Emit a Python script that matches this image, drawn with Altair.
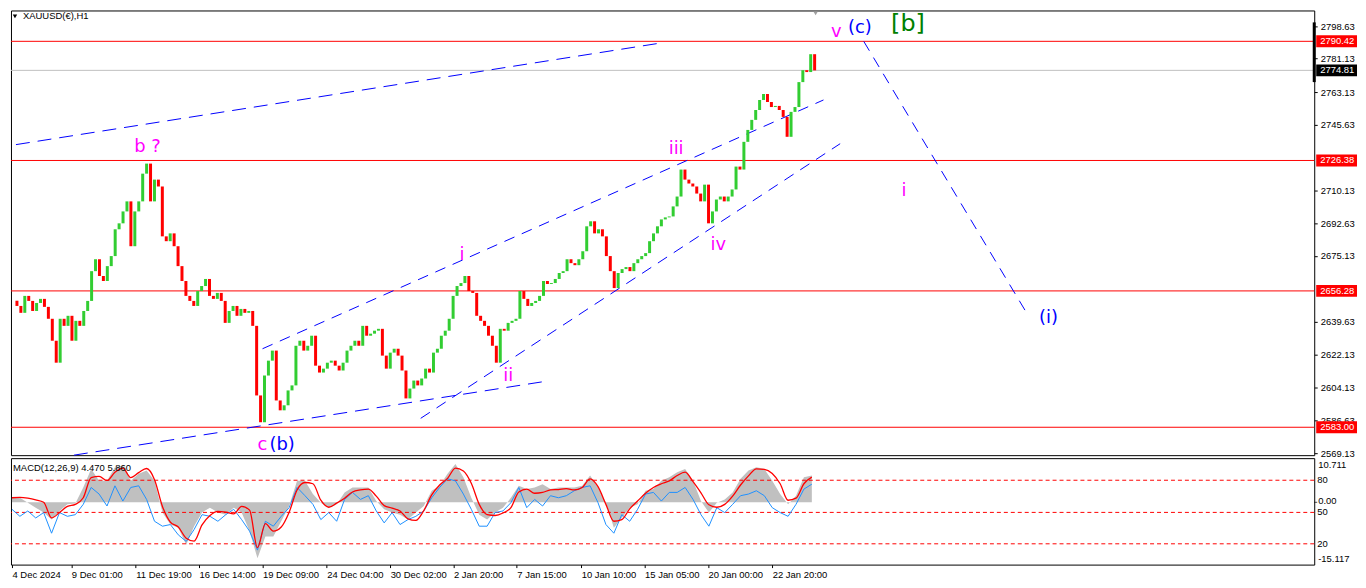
import json
import altair as alt
import pandas as pd

# ---------------- data ----------------
# hourly bar numbers (sampled every 4 bars) and closing prices
candle_bar = list(range(0, 816, 4))
close = [
    2648.2, 2644.5, 2653.6, 2650.9, 2645.5, 2649.8, 2652.0, 2647.7, 2641.3, 2629.5,
    2617.7, 2641.3, 2637.5, 2642.9, 2629.5, 2640.2, 2637.5, 2645.5, 2650.9, 2666.9,
    2673.3, 2664.3, 2661.6, 2669.6, 2675.0, 2689.4, 2692.6, 2699.0, 2704.4, 2680.3,
    2699.0, 2704.4, 2719.3, 2724.7, 2704.4, 2716.1, 2712.4, 2685.6, 2683.0, 2687.2,
    2680.3, 2669.6, 2661.6, 2653.6, 2650.9, 2648.2, 2656.2, 2658.9, 2662.7, 2653.6,
    2652.0, 2655.2, 2650.9, 2639.1, 2645.5, 2648.2, 2642.9, 2646.6, 2644.5, 2645.5,
    2637.5, 2600.1, 2585.7, 2610.8, 2618.8, 2624.2, 2597.4, 2592.1, 2594.8, 2602.8,
    2605.5, 2626.8, 2629.5, 2624.2, 2626.8, 2632.2, 2616.1, 2612.4, 2614.5, 2617.7,
    2618.8, 2616.1, 2613.5, 2617.7, 2624.2, 2626.8, 2629.5, 2626.8, 2637.5, 2632.2,
    2633.3, 2634.9, 2635.9, 2621.5, 2614.5, 2623.1, 2625.2, 2621.5, 2613.5, 2598.5,
    2603.8, 2608.1, 2605.5, 2609.2, 2614.5, 2612.4, 2623.1, 2625.2, 2632.2, 2634.9,
    2641.3, 2653.6, 2658.9, 2660.5, 2664.3, 2656.2, 2655.2, 2642.9, 2640.2, 2637.5,
    2632.2, 2626.8, 2617.7, 2635.9, 2634.9, 2639.1, 2640.2, 2641.3, 2656.2, 2652.0,
    2648.2, 2649.8, 2650.9, 2653.6, 2661.6, 2660.0, 2660.5, 2662.7, 2665.9, 2666.9,
    2673.3, 2671.2, 2670.1, 2673.3, 2677.6, 2691.0, 2693.7, 2687.2, 2689.4, 2685.6,
    2675.0, 2666.9, 2657.8, 2665.9, 2668.0, 2669.1, 2666.9, 2671.2, 2673.3, 2675.0,
    2676.6, 2683.0, 2687.2, 2691.0, 2694.7, 2695.8, 2696.3, 2701.7, 2707.0, 2721.5,
    2716.1, 2714.0, 2712.4, 2708.6, 2704.4, 2713.4, 2692.6, 2699.0, 2705.4, 2707.0,
    2704.4, 2707.0, 2710.8, 2723.1, 2721.5, 2736.4, 2742.8, 2748.2, 2753.5, 2758.9,
    2762.1, 2757.8, 2755.1, 2755.7, 2753.5, 2749.8, 2739.1, 2752.5, 2755.1, 2768.5,
    2774.9, 2773.9, 2783.5, 2774.8,
]
first_open = 2651.0

# MACD window (sampled every 8 bars)
macd_bar = list(range(0, 816, 8))
macd_hist = [
    1.1, 1.1, -0.1, -1.3, -2.5, -4.2, -2.1, -0.5, -0.3, 3.6,
    8.1, 5.2, 5.2, 8.5, 8.9, 5.2, 6.9, 7.7, 5.2, -2.5,
    -5.4, -6.2, -10.3, -5.8, -2.5, -1.3, -2.5, -3.0, -1.3, -2.5,
    -7.0, -13.6, -8.3, -8.3, -4.6, -0.9, 5.2, 5.2, 2.0, -0.1,
    -1.3, -0.5, 2.4, 3.6, 3.6, 3.6, 0.3, -1.7, -2.5, -3.0,
    -4.2, -2.5, -0.9, 2.8, 4.0, 6.9, 9.3, 6.1, 1.1, -3.0,
    -4.2, -2.5, -1.3, 1.1, 4.0, 3.2, 3.6, 4.4, 3.2, 3.6,
    3.6, 3.6, 4.0, 6.5, 3.6, -0.1, -6.2, -3.8, -1.3, -0.5,
    2.8, 3.2, 5.2, 6.1, 7.3, 8.1, 5.2, 0.3, -2.5, -0.1,
    0.7, 2.4, 5.7, 7.7, 8.5, 8.1, 5.2, 2.0, -0.5, 1.6,
    6.1, 6.5,
]
macd_signal = [
    1.1, 1.2, 1.0, 0.6, 0.0, -3.8, -2.5, -1.0, -0.5, 1.1,
    6.0, 6.3, 5.3, 7.3, 8.3, 6.0, 7.2, 8.2, 5.5, -1.0,
    -4.8, -6.0, -8.7, -9.4, -5.5, -3.2, -2.2, -2.4, -2.8, -1.0,
    -1.9, -11.0, -5.2, -7.0, -6.0, -2.4, 3.0, 4.8, 4.5, 0.5,
    -1.2, -0.2, 1.0, 2.5, 3.0, 3.2, 1.5, -0.8, -1.4, -2.1,
    -4.0, -4.4, -2.0, 1.8, 4.2, 5.8, 8.3, 7.6, 4.6, -0.5,
    -3.0, -3.2, -2.6, -1.3, 2.5, 3.2, 2.2, 2.4, 3.0, 3.1,
    3.3, 3.0, 3.6, 5.7, 3.8, -0.5, -4.6, -4.2, -1.6, 0.3,
    2.2, 3.6, 4.5, 5.2, 6.5, 7.3, 5.0, 2.3, -0.6, -1.2,
    -0.5, 1.5, 4.2, 6.4, 8.1, 8.0, 7.0, 4.5, 0.5, 1.0,
    4.5, 6.1,
]
macd_blue = [
    -1.7, -3.4, -2.1, -3.8, -2.5, -7.5, -2.5, -3.4, -3.0, -0.5,
    3.6, 2.0, -0.9, 4.0, 0.3, 3.6, 4.0, 0.7, -4.6, -5.8,
    -5.4, -7.9, -9.5, -6.6, -3.0, -3.4, -4.6, -3.0, -1.7, -4.2,
    -7.0, -11.6, -4.6, -5.8, -3.4, -1.3, 3.6, 1.6, -0.5, -4.2,
    -2.5, -4.6, 0.7, 2.4, 0.7, 1.6, -2.1, -5.0, -2.5, -5.4,
    -4.2, -3.4, -2.1, 1.1, 3.6, 5.7, 5.2, 2.0, -1.7, -5.8,
    -5.8, -2.5, -2.1, -0.1, 3.6, -1.3, 0.7, -0.9, 1.6, 1.1,
    1.6, 2.8, 3.6, 4.0, -0.1, -5.4, -7.5, -3.0, -4.6, -1.7,
    2.0, 2.4, 0.3, 2.4, 2.4, 3.6, 0.7, -3.0, -5.8, -1.3,
    -2.5, -0.5, 1.6, 2.0, 2.8, 1.6, -1.3, -2.5, -3.4, -0.5,
    3.2, 4.4,
]
macd_levels = [5.35, -2.45, -10.07]
macd_level_labels = ["80", "50", "20"]
macd_scale_top = 10.711
macd_scale_zero = 0.0
macd_scale_bottom = -15.117

# horizontal levels and price scale labels
red_levels = [2790.42, 2726.38, 2656.28, 2583.00]
current_price = 2774.81
price_ticks = [2798.63, 2781.13, 2763.13, 2745.63, 2710.13, 2692.63,
               2675.13, 2639.63, 2622.13, 2604.13, 2586.63, 2569.13]

# time axis
date_bars = [0, 60, 125, 189, 253, 318, 382, 446, 510, 575, 639, 703, 768]
date_labels = ["4 Dec 2024", "9 Dec 01:00", "11 Dec 19:00", "16 Dec 14:00",
               "19 Dec 09:00", "24 Dec 04:00", "30 Dec 02:00", "2 Jan 20:00",
               "7 Jan 15:00", "10 Jan 10:00", "15 Jan 05:00", "20 Jan 00:00",
               "22 Jan 20:00"]

# trend lines (id, bar, price)
long_dash_id = ["t1", "t1", "t2", "t2"]
long_dash_bar = [-1, 654, 58, 537]
long_dash_price = [2734.9, 2789.4, 2568.0, 2607.6]
short_dash_id = ["c1", "c1", "c2", "c2", "d1", "d1"]
short_dash_bar = [250, 821, 411, 838, 862, 1029]
short_dash_price = [2625.2, 2758.9, 2587.8, 2735.4, 2790.4, 2643.4]

# wave labels
wave_text = ["b ?", "c", "(b)", "i", "ii", "iii", "iv", "v", "(c)", "[b]", "i", "(i)"]
wave_bar = [133, 250, 270, 453, 500, 671, 714, 834, 858, 907, 903, 1050]
wave_price = [2733.8, 2573.4, 2573.4, 2675.5, 2610.3, 2732.7, 2680.8,
              2795.2, 2797.4, 2799.5, 2709.7, 2641.8]
wave_color = ["#ff00ff", "#ff00ff", "#0000ff", "#ff00ff", "#ff00ff", "#ff00ff",
              "#ff00ff", "#ff00ff", "#0000ff", "#008000", "#ff00ff", "#0000ff"]
wave_size = [18, 18, 18, 18, 18, 18, 18, 18, 18, 24, 18, 18]

# ---------------- chart ----------------
W = 1310
H_MAIN = 447
H_MACD = 107
FONT = "Liberation Sans"
FS = 9.5
GREEN = "#32cd32"
RED = "#ff0000"

x_scale = alt.Scale(domain=[-1, 1315.5], nice=False, zero=False)
y_main_scale = alt.Scale(domain=[2568.0, 2807.0], nice=False, zero=False)
y_macd_scale = alt.Scale(domain=[-15.117, 10.711], nice=False, zero=False)

price_axis = alt.Axis(orient="right", values=price_ticks, format=".2f", tickSize=3,
                      tickColor="black", labelPadding=3, labelFont=FONT,
                      labelFontSize=FS, labelColor="black", domain=False, grid=False,
                      title=None, labelOverlap=False)


def xm(field="bar"):
    return alt.X(f"{field}:Q", scale=x_scale, axis=None)


def ym(field):
    return alt.Y(f"{field}:Q", scale=y_main_scale, axis=price_axis)


opens = [first_open] + close[:-1]
cdf = pd.DataFrame({"bar": candle_bar, "open": opens, "close": close})
cdf["dir"] = ["up" if c >= o else "down" for o, c in zip(opens, close)]

candles = alt.Chart(cdf).mark_bar(size=3).encode(
    x=xm(), y=ym("open"), y2="close:Q",
    color=alt.Color("dir:N", scale=alt.Scale(domain=["up", "down"], range=[GREEN, RED]),
                    legend=None),
)

red_lines = alt.Chart(pd.DataFrame({"price": red_levels})).mark_rule(
    color=RED, strokeWidth=1).encode(y=ym("price"))
gray_line = alt.Chart(pd.DataFrame({"price": [current_price]})).mark_rule(
    color="#c0c0c0", strokeWidth=1).encode(y=ym("price"))

long_df = pd.DataFrame({"id": long_dash_id, "bar": long_dash_bar, "price": long_dash_price})
short_df = pd.DataFrame({"id": short_dash_id, "bar": short_dash_bar, "price": short_dash_price})
long_lines = alt.Chart(long_df).mark_line(color="#0000ff", strokeWidth=1, strokeDash=[14, 8]).encode(
    x=xm(), y=ym("price"), detail="id:N")
short_lines = alt.Chart(short_df).mark_line(color="#0000ff", strokeWidth=1, strokeDash=[11, 8]).encode(
    x=xm(), y=ym("price"), detail="id:N")

wdf = pd.DataFrame({"label": wave_text, "bar": wave_bar, "price": wave_price,
                    "color": wave_color, "fs": wave_size})
waves = alt.Chart(wdf).mark_text(font="DejaVu Sans", align="center", baseline="middle").encode(
    x=xm(), y=ym("price"), text="label:N",
    color=alt.Color("color:N", scale=None),
    size=alt.Size("fs:Q", scale=None),
)

box_df = pd.DataFrame({"price": red_levels + [current_price],
                       "bg": ["#ff0000"] * 4 + ["#000000"]})
boxes = alt.Chart(box_df).transform_calculate(
    lo="datum.price - 3.2", hi="datum.price + 3.2"
).mark_rect().encode(
    x=alt.value(W + 2), x2=alt.value(W + 43), y=ym("lo"), y2="hi:Q",
    color=alt.Color("bg:N", scale=None),
)
box_text = alt.Chart(box_df).mark_text(align="left", baseline="middle", color="white",
                                        font=FONT, fontSize=FS).encode(
    x=alt.value(W + 6), y=ym("price"), text=alt.Text("price:Q", format=".2f"))

axis_bar = alt.Chart(pd.DataFrame({"a": [2800.6], "b": [2768.5]})).mark_rule(
    color="black", strokeWidth=3).encode(x=alt.value(W), y=ym("a"), y2="b:Q")

shift_marker = alt.Chart(pd.DataFrame({"bar": [813]})).mark_point(
    shape="triangle-down", filled=True, color="#a0a0a0", size=18, opacity=1).encode(
    x=xm(), y=alt.value(3))

title_df = pd.DataFrame({"t": ["XAUUSD(€),H1"]})
title_txt = alt.Chart(title_df).mark_text(align="left", baseline="middle", font=FONT,
                                          fontSize=FS, color="black").encode(
    x=alt.value(12), y=alt.value(6), text="t:N")
title_tri = alt.Chart(title_df).mark_point(shape="triangle-down", filled=True, color="black",
                                           size=20, opacity=1).encode(
    x=alt.value(4), y=alt.value(6))

main = alt.layer(
    red_lines, gray_line, long_lines, short_lines, candles, waves,
    boxes, box_text, axis_bar, shift_marker, title_txt, title_tri,
).properties(width=W, height=H_MAIN)

# MACD panel
label_expr = f"{json.dumps(date_labels)}[indexof({json.dumps(date_bars)}, datum.value)]"
date_axis = alt.Axis(values=date_bars, labelExpr=label_expr, labelAlign="left",
                     labelBaseline="top", tickSize=3, tickColor="black", labelPadding=2,
                     labelFont=FONT, labelFontSize=FS, labelColor="black", domain=False,
                     grid=False, title=None, labelOverlap=False, labelFlush=False)


def xd():
    return alt.X("bar:Q", scale=x_scale, axis=date_axis)


def yd(field):
    return alt.Y(f"{field}:Q", scale=y_macd_scale, axis=None)


mdf = pd.DataFrame({"bar": macd_bar, "hist": macd_hist, "signal": macd_signal, "blue": macd_blue})
hist = alt.Chart(mdf).mark_area(color="#c0c0c0", opacity=1).encode(
    x=xd(), y=yd("hist"), y2=alt.datum(0))
blue = alt.Chart(mdf).mark_line(color="#1e90ff", strokeWidth=1).encode(x=xd(), y=yd("blue"))
signal = alt.Chart(mdf).mark_line(color=RED, strokeWidth=1.3, interpolate="monotone").encode(
    x=xd(), y=yd("signal"))

lvl_df = pd.DataFrame({"lvl": macd_levels, "lab": macd_level_labels})
levels = alt.Chart(lvl_df).mark_rule(color=RED, strokeDash=[4, 3], strokeWidth=1).encode(
    y=yd("lvl"))
level_text = alt.Chart(lvl_df).mark_text(align="left", baseline="middle", font=FONT,
                                         fontSize=FS, color="black").encode(
    x=alt.value(W + 3), y=yd("lvl"), text="lab:N")


def scale_label(value, text, dy):
    return alt.Chart(pd.DataFrame({"v": [value], "lab": [text]})).mark_text(
        align="left", baseline="middle", font=FONT, fontSize=FS, color="black", dy=dy
    ).encode(x=alt.value(W + 4), y=yd("v"), text="lab:N")


top_lab = scale_label(macd_scale_top, "10.711", 7)
zero_lab = scale_label(macd_scale_zero, "0.00", -1)
bot_lab = scale_label(macd_scale_bottom, "-15.117", -6)

macd_ticks = alt.Chart(pd.DataFrame({"v": [macd_scale_zero]})).mark_tick(
    color="black", thickness=1, size=3, orient="horizontal"
).encode(x=alt.value(W + 1.5), y=yd("v"))

macd_title = alt.Chart(pd.DataFrame({"t": ["MACD(12,26,9) 4.470 5.860"]})).mark_text(
    align="left", baseline="middle", font=FONT, fontSize=FS, color="black").encode(
    x=alt.value(2), y=alt.value(10), text="t:N")

macd = alt.layer(hist, levels, blue, signal, level_text, top_lab, zero_lab, bot_lab,
                 macd_ticks, macd_title).properties(width=W, height=H_MACD)

chart = alt.vconcat(main, macd, spacing=3, bounds="flush").properties(
    padding={"left": 0, "top": 0, "right": 0, "bottom": 0}, background="white"
).configure(padding={"left": 0, "top": 0, "right": 0, "bottom": 0}
).configure_view(stroke="black", strokeWidth=1)

chart.save("out.html", embed_options={"renderer": "svg", "actions": False})
